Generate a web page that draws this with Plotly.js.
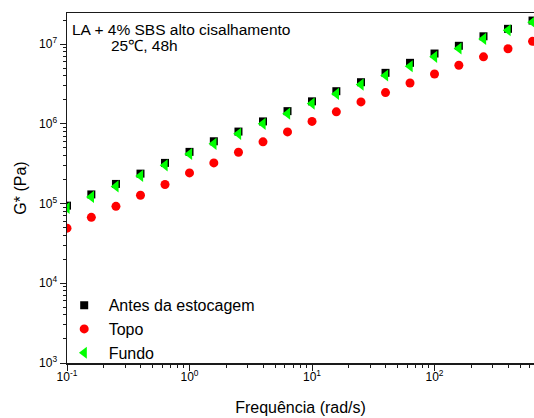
<!DOCTYPE html>
<html>
<head>
<meta charset="utf-8">
<script src="https://cdn.plot.ly/plotly-3.0.1.min.js"></script>
<style>html,body{margin:0;padding:0;background:#fff;overflow:hidden}</style>
</head>
<body>
<div id="chart" style="width:534px;height:418px"></div>
<script>
// Frequency (rad/s)
var freq = [0.1, 0.158, 0.251, 0.398, 0.631, 1, 1.58, 2.51, 3.98, 6.31,
            10, 15.8, 25.1, 39.8, 63.1, 100, 158, 251, 398, 631];
// G* (Pa)
var antes = [9.4e4, 1.30e5, 1.76e5, 2.37e5, 3.23e5, 4.44e5, 6.03e5, 7.98e5, 1.07e6, 1.44e6,
             1.91e6, 2.56e6, 3.32e6, 4.35e6, 5.81e6, 7.6e6, 9.5e6, 1.25e7, 1.55e7, 1.97e7];
var topo = [4.91e4, 6.71e4, 9.22e4, 1.27e5, 1.73e5, 2.42e5, 3.23e5, 4.39e5, 5.93e5, 7.91e5,
            1.07e6, 1.41e6, 1.88e6, 2.46e6, 3.24e6, 4.21e6, 5.42e6, 6.90e6, 8.71e6, 1.08e7];
var fundo = [8.8e4, 1.21e5, 1.64e5, 2.22e5, 3.01e5, 4.17e5, 5.6e5, 7.47e5, 9.97e5, 1.34e6,
             1.79e6, 2.37e6, 3.10e6, 4.03e6, 5.26e6, 6.9e6, 8.79e6, 1.16e7, 1.49e7, 1.88e7];
var seriesNames = ['Antes da estocagem', 'Topo', 'Fundo'];
var xTickVals = [0.1, 1, 10, 100];
var xTickText = ['10<sup>-1</sup>', '10<sup>0</sup>', '10<sup>1</sup>', '10<sup>2</sup>'];
var yTickVals = [1e3, 1e4, 1e5, 1e6, 1e7];
var yTickText = ['10<sup>3</sup>', '10<sup>4</sup>', '10<sup>5</sup>', '10<sup>6</sup>', '10<sup>7</sup>'];

var NB = '\u00a0';
var traces = [
  {x: freq, y: antes, name: NB + seriesNames[0], type: 'scatter', mode: 'markers',
   marker: {symbol: 'square', size: 8, color: '#000000'}},
  {x: freq, y: topo, name: NB + seriesNames[1], type: 'scatter', mode: 'markers',
   marker: {symbol: 'circle', size: 9, color: '#ff0000'}},
  {x: freq, y: fundo, name: NB + seriesNames[2], type: 'scatter', mode: 'markers',
   marker: {symbol: 'triangle-left', size: 10.5, color: '#00ff00'}}
];

var axisFont = {family: 'Liberation Sans, Arial, sans-serif', size: 12, color: '#000'};
var layout = {
  width: 534, height: 418,
  margin: {l: 67, r: 0, t: 13, b: 55},
  paper_bgcolor: '#fff', plot_bgcolor: '#fff',
  showlegend: true,
  font: {family: 'Liberation Sans, Arial, sans-serif', color: '#000'},
  xaxis: {
    type: 'log', range: [-1, 2.812], autorange: false,
    showgrid: false, zeroline: false,
    showline: true, linecolor: '#1a1a1a', linewidth: 1.5, mirror: true,
    ticks: 'outside', ticklen: 6, tickwidth: 1, tickcolor: '#1a1a1a',
    tickmode: 'array', tickvals: xTickVals, ticktext: xTickText,
    tickfont: axisFont, ticklabelstandoff: -4,
    minor: {ticks: 'outside', ticklen: 3, tickwidth: 1, tickcolor: '#1a1a1a', dtick: 'D1', showgrid: false},
    title: {text: 'Frequência (rad/s)', font: {family: 'Liberation Sans, Arial, sans-serif', size: 16, color: '#000'}, standoff: 19}
  },
  yaxis: {
    type: 'log', range: [3, 7.389], autorange: false,
    showgrid: false, zeroline: false,
    showline: true, linecolor: '#1a1a1a', linewidth: 1.5, mirror: false,
    ticks: 'outside', ticklen: 6, tickwidth: 1, tickcolor: '#1a1a1a',
    tickmode: 'array', tickvals: yTickVals, ticktext: yTickText,
    tickfont: axisFont,
    minor: {ticks: 'outside', ticklen: 3, tickwidth: 1, tickcolor: '#1a1a1a', dtick: 'D1', showgrid: false},
    title: {text: 'G* (Pa)', font: {family: 'Liberation Sans, Arial, sans-serif', size: 16, color: '#000'}, standoff: 8}
  },
  legend: {
    x: -0.006, y: 0.2136, xanchor: 'left', yanchor: 'top',
    bgcolor: 'rgba(0,0,0,0)', borderwidth: 0,
    font: {family: 'Liberation Sans, Arial, sans-serif', size: 16, color: '#000'}
  },
  annotations: [
    {text: 'LA + 4% SBS alto cisalhamento', xref: 'paper', yref: 'paper',
     x: 0.006, y: 0.952, xanchor: 'left', yanchor: 'middle', showarrow: false,
     font: {family: 'Liberation Sans, Arial, sans-serif', size: 15.5, color: '#000'}},
    {text: '25\u2103, 48h', xref: 'paper', yref: 'paper',
     x: 0.09, y: 0.906, xanchor: 'left', yanchor: 'middle', showarrow: false,
     font: {family: 'Liberation Sans, Arial, sans-serif', size: 15.5, color: '#000'}}
  ]
};

Plotly.newPlot('chart', traces, layout, {displayModeBar: false, staticPlot: true});
</script>
</body>
</html>
